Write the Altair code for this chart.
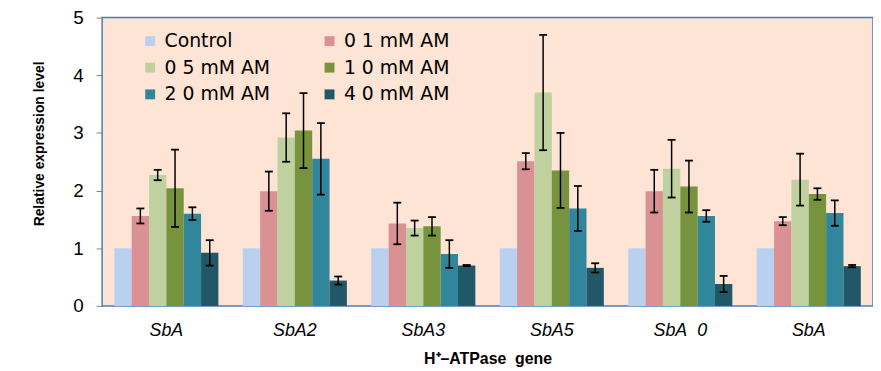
import altair as alt
import pandas as pd

# Gene categories (labels as rendered in the reference; figure spaces keep them distinct)
genes = ["SbA\u2007", "SbA2", "SbA3", "SbA5", "SbA\u20070", "SbA\u2007\u2007"]
series = ["Control", "0 1 mM AM", "0 5 mM AM", "1 0 mM AM", "2 0 mM AM", "4 0 mM AM"]
colors = ["#B9D1EE", "#D99194", "#BED19E", "#78933D", "#32869C", "#215868"]
# legend is filled column by column: order chosen so it reads row by row
legend_order = [0, 2, 4, 1, 3, 5]

control = [1.0, 1.0, 1.0, 1.0, 1.0, 1.0]
am01 = [1.56, 1.99, 1.43, 2.51, 1.99, 1.47]
am05 = [2.27, 2.92, 1.35, 3.70, 2.38, 2.19]
am10 = [2.04, 3.04, 1.38, 2.35, 2.07, 1.94]
am20 = [1.60, 2.55, 0.90, 1.69, 1.56, 1.61]
am40 = [0.92, 0.44, 0.70, 0.66, 0.38, 0.69]

err_control = [0, 0, 0, 0, 0, 0]
err01 = [0.13, 0.34, 0.36, 0.14, 0.37, 0.07]
err05 = [0.09, 0.42, 0.13, 1.00, 0.50, 0.45]
err10 = [0.67, 0.65, 0.16, 0.65, 0.45, 0.10]
err20 = [0.11, 0.62, 0.24, 0.39, 0.10, 0.22]
err40 = [0.22, 0.07, 0.01, 0.08, 0.14, 0.02]

values = [control, am01, am05, am10, am20, am40]
errors = [err_control, err01, err05, err10, err20, err40]

rows = []
for s, vals, errs in zip(series, values, errors):
    for g, v, e in zip(genes, vals, errs):
        rows.append({"gene": g, "series": s, "value": v, "err": e,
                     "lo": v - e, "hi": v + e})
df = pd.DataFrame(rows)

color_domain = [series[i] for i in legend_order]
color_range = [colors[i] for i in legend_order]

x = alt.X("gene:N", sort=genes,
          scale=alt.Scale(paddingInner=0.19, paddingOuter=0.095),
          axis=alt.Axis(title="H\u207a\u2013ATPase\u00a0 gene", labelAngle=0,
                        domain=False, ticks=False,
                        labelFont="Liberation Sans", labelFontStyle="italic",
                        labelFontSize=18, labelColor="black", labelPadding=16,
                        titleFont="Liberation Sans", titleFontWeight="bold",
                        titleFontSize=16, titleColor="black",
                        titleY=53, titleBaseline="middle"))
xo = alt.XOffset("series:N", sort=series,
                 scale=alt.Scale(paddingInner=0, paddingOuter=0))
yscale = alt.Scale(domain=[0, 5], nice=False)

base = alt.Chart(df)

bars = base.mark_bar(opacity=1).encode(
    x=x,
    xOffset=xo,
    y=alt.Y("value:Q", scale=yscale,
            axis=alt.Axis(title="Relative expression level", values=[0, 1, 2, 3, 4, 5],
                          format="d",
                          grid=False, domain=False, tickColor="#7F7F7F", tickSize=6,
                          labelFont="Liberation Sans", labelFontSize=19,
                          labelColor="black", labelPadding=13,
                          titleFont="Liberation Sans", titleFontWeight="bold",
                          titleFontSize=14, titleColor="black",
                          titleX=-63, titleY=127, titleBaseline="middle",
                          titleAlign="center")),
    color=alt.Color("series:N",
                    scale=alt.Scale(domain=color_domain, range=color_range),
                    legend=alt.Legend(title=None, orient="none", columns=2,
                                      legendX=39, legendY=14,
                                      symbolType="square", symbolSize=100,
                                      symbolStrokeWidth=0, symbolOpacity=1,
                                      labelFont="DejaVu Sans", labelFontSize=19,
                                      labelColor="black", labelOffset=5,
                                      columnPadding=50, rowPadding=7,
                                      padding=0)),
)

eb = base.transform_filter("datum.err > 0")

rules = eb.mark_rule(color="black", strokeWidth=1.5).encode(
    x=alt.X("gene:N", sort=genes), xOffset=xo,
    y=alt.Y("lo:Q", scale=yscale), y2="hi:Q")

caps_hi = eb.mark_tick(color="black", thickness=1.8, size=8, opacity=1).encode(
    x=alt.X("gene:N", sort=genes), xOffset=xo, y=alt.Y("hi:Q", scale=yscale))
caps_lo = eb.mark_tick(color="black", thickness=1.8, size=8, opacity=1).encode(
    x=alt.X("gene:N", sort=genes), xOffset=xo, y=alt.Y("lo:Q", scale=yscale))

chart = alt.layer(bars, rules, caps_hi, caps_lo).properties(
    width=778, height=291,
    autosize=alt.AutoSizeParams(type="none"),
    padding={"left": 95, "top": 8, "right": 0, "bottom": 64},
    background="white",
).configure_view(
    fill="#FDE4D5", stroke="#4A7EBB", strokeWidth=1.5
)

chart.save("out.html", embed_options={"renderer": "svg", "actions": False})
